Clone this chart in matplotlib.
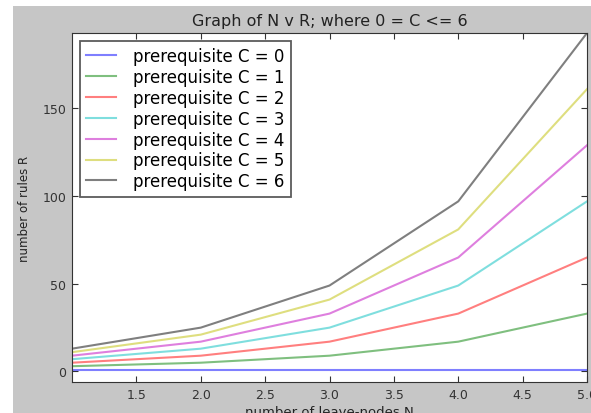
import matplotlib
matplotlib.use('Agg')
import matplotlib.pyplot as plt
from matplotlib.patches import Rectangle

# leave-nodes N and rules R for each prerequisite count C
leave_nodes = [1, 2, 3, 4, 5]
rules_c0 = [1, 1, 1, 1, 1]
rules_c1 = [3, 5, 9, 17, 33]
rules_c2 = [5, 9, 17, 33, 65]
rules_c3 = [7, 13, 25, 49, 97]
rules_c4 = [9, 17, 33, 65, 129]
rules_c5 = [11, 21, 41, 81, 161]
rules_c6 = [13, 25, 49, 97, 193]
series_labels = ['prerequisite C = %d' % c for c in range(7)]

W, H = 591, 414
fig = plt.figure(figsize=(W / 100, H / 100), dpi=100, facecolor='white')
# grey window background, the shot is cropped on the right and bottom
fig.patches.append(Rectangle((13 / W, 0), 1, 1 - 7 / H, transform=fig.transFigure,
                             facecolor='#c6c6c6', edgecolor='none', zorder=-10))
ax = fig.add_axes([72 / W, 1 - 383 / H, (587 - 72) / W, (383 - 34) / H])

colors = ['b', 'g', 'r', 'c', 'm', 'y', 'k']
all_rules = [rules_c0, rules_c1, rules_c2, rules_c3, rules_c4, rules_c5, rules_c6]
for rules, col, lab in zip(all_rules, colors, series_labels):
    ax.plot(leave_nodes, rules, color=col, alpha=0.5, lw=1.5, label=lab)

ax.set_xlim(1, 5)
ax.set_ylim(-6, 193)
ax.set_xticks([1.5, 2.0, 2.5, 3.0, 3.5, 4.0, 4.5, 5.0])
ax.set_yticks([0, 50, 100, 150])
ax.tick_params(direction='in', top=True, right=True, labelsize=9, length=4,
               colors='#333333', pad=4)
for s in ax.spines.values():
    s.set_color('#333333')

ax.set_title('Graph of N v R; where 0 = C <= 6', fontsize=11.5, color='#222222', pad=6)
ax.set_xlabel('number of leave-nodes N', fontsize=9.5, color='#222222', labelpad=3)
ax.set_ylabel('number of rules R', fontsize=8.5, color='#222222', labelpad=8)

leg = ax.legend(loc='upper left', fontsize=12, fancybox=False, handlelength=1.8,
                borderpad=0.4, labelspacing=0.17, handletextpad=1.0,
                borderaxespad=0.45)
leg.get_frame().set_edgecolor('#333333')
leg.get_frame().set_linewidth(1.3)

fig.savefig('out.png', dpi=100, facecolor=fig.get_facecolor())
